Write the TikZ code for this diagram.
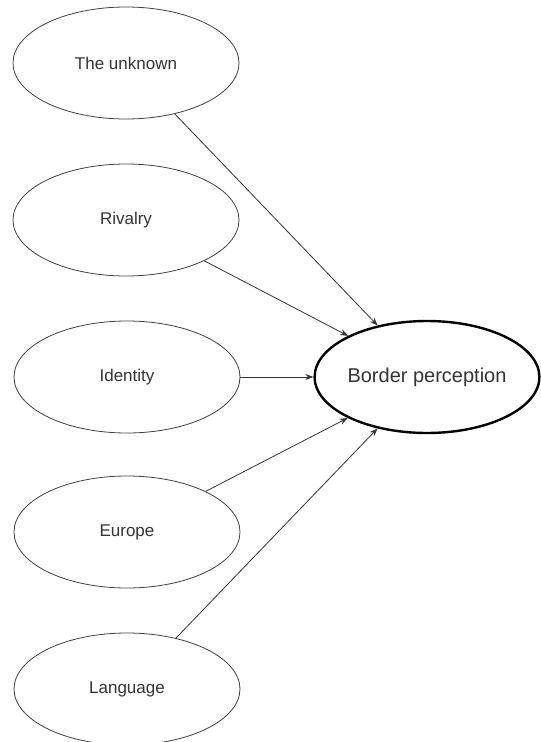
\documentclass[tikz,border=0pt]{standalone}
\usepackage{fontspec}
\setmainfont{Liberation Sans}
\usetikzlibrary{shapes.geometric,arrows.meta}

\tikzset{
  factor/.style={ellipse, draw=black!75, line width=0.8pt, minimum width=226pt, minimum height=112pt, inner sep=0pt, text=black!80, font=\fontsize{17}{20}\selectfont},
  outcome/.style={ellipse, draw=black, line width=2.4pt, minimum width=224pt, minimum height=112pt, inner sep=0pt, text=black!80, font=\fontsize{20}{24}\selectfont},
  link/.style={draw=black!80, line width=0.8pt, -{Stealth[length=8pt,width=6pt]}}
}

\begin{document}
\begin{tikzpicture}[x=1pt,y=-1pt]
				\useasboundingbox (0,0) rectangle (541,742);
				\coordinate (U) at (126,63);
				\coordinate (R) at (126,220);
				\coordinate (I) at (127,377);
				\coordinate (E) at (127,532);
				\coordinate (L) at (127,689);
				\coordinate (B) at (427,377);
				
				\node[factor] (unknown) at (U) {The unknown};
				\node[factor] (rivalry) at (R) {Rivalry};
				\node[factor] (identity) at (I) {Identity};
				\node[factor] (europe) at (E) {Europe};
				\node[factor] (language) at (L) {Language};
				\node[outcome] (border) at (B) {Border perception};
				
				\draw[link] (unknown) -- (border);
				\draw[link] (rivalry) -- (border);
				\draw[link] (identity) -- (border);
				\draw[link] (europe) -- (border);
				\draw[link] (language) -- (border);
			\end{tikzpicture}
\end{document}
